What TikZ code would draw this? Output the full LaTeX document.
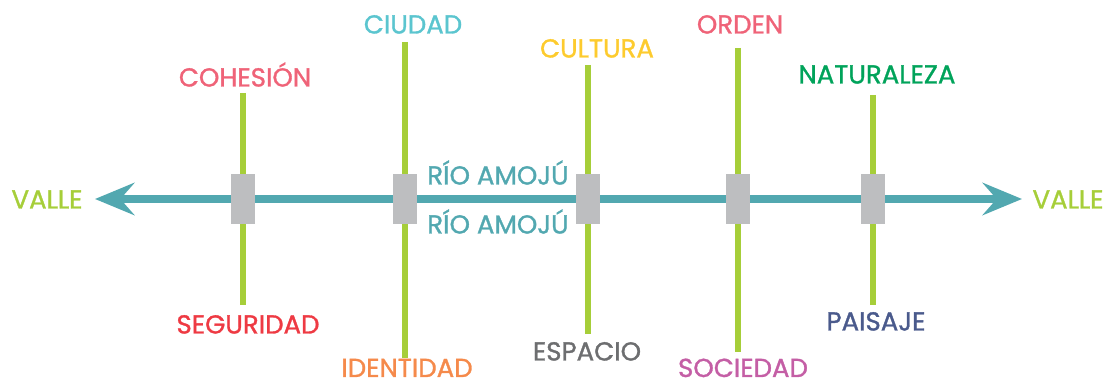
\documentclass[tikz,border=0pt]{standalone}
\usepackage{fontspec}
\setmainfont{Poppins}
\newfontfamily\lblfont{Poppins}[FakeBold=1.2]
\usetikzlibrary{arrows.meta}
\definecolor{riverteal}{HTML}{52A8B0}
\definecolor{limegreen}{HTML}{A6CE39}
\definecolor{boxgray}{HTML}{BDBEC0}
\definecolor{cpink}{HTML}{EF6378}
\definecolor{cteal}{HTML}{5BC5CF}
\definecolor{cyellow}{HTML}{FDCB2E}
\definecolor{cgreen}{HTML}{00A35A}
\definecolor{cred}{HTML}{EE3A43}
\definecolor{corange}{HTML}{F58A4B}
\definecolor{cgray}{HTML}{6D6E70}
\definecolor{cmagenta}{HTML}{C45EA5}
\definecolor{cnavy}{HTML}{4A5A8C}
\tikzset{
  lbl/.style={inner sep=0pt, anchor=base, text depth=0pt, font=\lblfont\fontsize{18.5}{20}\selectfont},
  axis/.style={riverteal, line width=6, {Stealth[length=28, width=23, inset=10]}-{Stealth[length=28, width=23, inset=10]}},
  stem/.style={limegreen, line width=4},
  knot/.style={fill=boxgray, minimum width=17, minimum height=35, inner sep=0pt}
}
\begin{document}
\begin{tikzpicture}[x=0.025cm, y=-0.025cm]
\useasboundingbox (0,0) rectangle (1114,385);
% axis
\coordinate (vl) at (95,199); \coordinate (vr) at (1022,199);
\draw [axis] (vl) -- (vr);
\node [lbl, limegreen] (valleL) at (47,208.5) {VALLE};
\node [lbl, limegreen] (valleR) at (1068,208.5) {VALLE};
\node [lbl, riverteal] (rioA) at (498,184.5) {RÍO AMOJÚ};
\node [lbl, riverteal] (rioB) at (498,233.5) {RÍO AMOJÚ};
% stems
\coordinate (t1) at (243,93);  \coordinate (b1) at (243,305);
\coordinate (t2) at (405,42);  \coordinate (b2) at (405,358);
\coordinate (t3) at (588,65);  \coordinate (b3) at (588,334);
\coordinate (t4) at (738,48);  \coordinate (b4) at (738,352);
\coordinate (t5) at (873,95);  \coordinate (b5) at (873,305);
\foreach \i in {1,...,5} \draw [stem] (t\i) -- (b\i);
\foreach \i/\x in {1/243,2/405,3/588,4/738,5/873} \node [knot] (k\i) at (\x,199) {};
% labels
\node [lbl, cpink] (cohesion) at (245,86.5) {COHESIÓN};
\node [lbl, cred] (seguridad) at (248,333.5) {SEGURIDAD};
\node [lbl, cteal] (ciudad) at (413,33.5) {CIUDAD};
\node [lbl, corange] (identidad) at (407,377) {IDENTIDAD};
\node [lbl, cyellow] (cultura) at (597,57.5) {CULTURA};
\node [lbl, cgray] (espacio) at (587,360.5) {ESPACIO};
\node [lbl, cpink] (orden) at (740,33.5) {ORDEN};
\node [lbl, cmagenta] (sociedad) at (743,377) {SOCIEDAD};
\node [lbl, cgreen] (naturaleza) at (877,83.5) {NATURALEZA};
\node [lbl, cnavy] (paisaje) at (876,330.5) {PAISAJE};
\end{tikzpicture}
\end{document}
